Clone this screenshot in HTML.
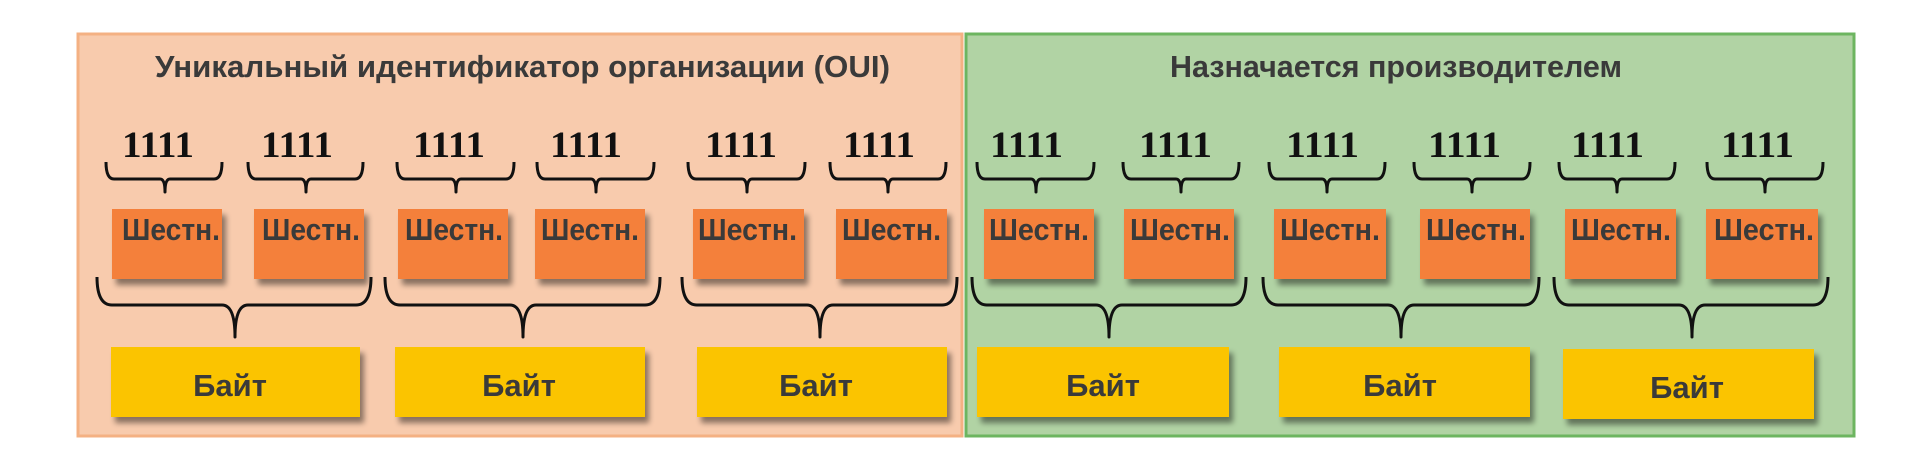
<!DOCTYPE html>
<html><head><meta charset="utf-8"><style>
html,body{margin:0;padding:0;background:#fff;}
svg{display:block;}
.t{font-family:"Liberation Sans",Arial,sans-serif;font-weight:bold;fill:#3a3a3a;}
.n{font-family:"Liberation Serif","Times New Roman",serif;font-weight:bold;fill:#111;font-size:37px;}
.br{fill:none;stroke:#111;stroke-width:3;stroke-linejoin:round;}
</style></head><body>
<svg width="1920" height="471" viewBox="0 0 1920 471" xmlns="http://www.w3.org/2000/svg">
<defs>
<filter id="sh" x="-10%" y="-10%" width="130%" height="140%">
<feGaussianBlur in="SourceAlpha" stdDeviation="3"/>
<feOffset dx="4" dy="6"/>
<feComponentTransfer><feFuncA type="linear" slope="0.45"/></feComponentTransfer>
<feMerge><feMergeNode/><feMergeNode in="SourceGraphic"/></feMerge>
</filter>
</defs>
<rect x="78" y="34" width="884" height="402" fill="#f8cbad" stroke="#f4b183" stroke-width="3"/>
<rect x="966" y="34" width="888" height="402" fill="#b1d3a4" stroke="#6db560" stroke-width="3"/>
<text class="t" x="155" y="77" font-size="31" textLength="735" lengthAdjust="spacingAndGlyphs">Уникальный идентификатор организации (OUI)</text>
<text class="t" x="1170" y="77" font-size="31" textLength="452" lengthAdjust="spacingAndGlyphs">Назначается производителем</text>

<g class="n">
<text x="122" y="157" textLength="72" lengthAdjust="spacingAndGlyphs">1111</text>
<text x="261" y="157" textLength="72" lengthAdjust="spacingAndGlyphs">1111</text>
<text x="413" y="157" textLength="72" lengthAdjust="spacingAndGlyphs">1111</text>
<text x="550" y="157" textLength="72" lengthAdjust="spacingAndGlyphs">1111</text>
<text x="705" y="157" textLength="72" lengthAdjust="spacingAndGlyphs">1111</text>
<text x="843" y="157" textLength="72" lengthAdjust="spacingAndGlyphs">1111</text>
<text x="990" y="157" textLength="73" lengthAdjust="spacingAndGlyphs">1111</text>
<text x="1139" y="157" textLength="73" lengthAdjust="spacingAndGlyphs">1111</text>
<text x="1286" y="157" textLength="73" lengthAdjust="spacingAndGlyphs">1111</text>
<text x="1428" y="157" textLength="73" lengthAdjust="spacingAndGlyphs">1111</text>
<text x="1571" y="157" textLength="73" lengthAdjust="spacingAndGlyphs">1111</text>
<text x="1721" y="157" textLength="73" lengthAdjust="spacingAndGlyphs">1111</text>
</g>

<g class="br" stroke-width="2.6">
<path d="M106,162 Q106,179 114,179 L160,179 Q165,179 165,192 Q165,179 170,179 L214,179 Q222,179 222,162"/>
<path d="M248,162 Q248,179 256,179 L301,179 Q306,179 306,192 Q306,179 311,179 L355,179 Q363,179 363,162"/>
<path d="M397,162 Q397,179 405,179 L451,179 Q456,179 456,192 Q456,179 461,179 L506,179 Q514,179 514,162"/>
<path d="M537,162 Q537,179 545,179 L591,179 Q596,179 596,192 Q596,179 601,179 L646,179 Q654,179 654,162"/>
<path d="M688,162 Q688,179 696,179 L742,179 Q747,179 747,192 Q747,179 752,179 L797,179 Q805,179 805,162"/>
<path d="M830,162 Q830,179 838,179 L883,179 Q888,179 888,192 Q888,179 893,179 L938,179 Q946,179 946,162"/>
<path d="M977,162 Q977,179 985,179 L1031,179 Q1036,179 1036,192 Q1036,179 1041,179 L1086,179 Q1094,179 1094,162"/>
<path d="M1123,162 Q1123,179 1131,179 L1176,179 Q1181,179 1181,192 Q1181,179 1186,179 L1231,179 Q1239,179 1239,162"/>
<path d="M1269,162 Q1269,179 1277,179 L1322,179 Q1327,179 1327,192 Q1327,179 1332,179 L1377,179 Q1385,179 1385,162"/>
<path d="M1414,162 Q1414,179 1422,179 L1467,179 Q1472,179 1472,192 Q1472,179 1477,179 L1522,179 Q1530,179 1530,162"/>
<path d="M1559,162 Q1559,179 1567,179 L1612,179 Q1617,179 1617,192 Q1617,179 1622,179 L1667,179 Q1675,179 1675,162"/>
<path d="M1707,162 Q1707,179 1715,179 L1760,179 Q1765,179 1765,192 Q1765,179 1770,179 L1815,179 Q1823,179 1823,162"/>
</g>

<g fill="#f4803a" filter="url(#sh)">
<rect x="112" y="209" width="110" height="70"/>
<rect x="254" y="209" width="110" height="70"/>
<rect x="398" y="209" width="110" height="70"/>
<rect x="535" y="209" width="110" height="70"/>
<rect x="693" y="209" width="111" height="70"/>
<rect x="836" y="209" width="111" height="70"/>
<rect x="984" y="209" width="110" height="70"/>
<rect x="1124" y="209" width="110" height="70"/>
<rect x="1274" y="209" width="112" height="70"/>
<rect x="1420" y="209" width="110" height="70"/>
<rect x="1565" y="209" width="111" height="70"/>
<rect x="1706" y="209" width="112" height="70"/>
</g>
<g class="t" font-size="31">
<text x="122" y="240" textLength="98" lengthAdjust="spacingAndGlyphs">Шестн.</text>
<text x="262" y="240" textLength="98" lengthAdjust="spacingAndGlyphs">Шестн.</text>
<text x="405" y="240" textLength="98" lengthAdjust="spacingAndGlyphs">Шестн.</text>
<text x="541" y="240" textLength="98" lengthAdjust="spacingAndGlyphs">Шестн.</text>
<text x="698" y="240" textLength="99" lengthAdjust="spacingAndGlyphs">Шестн.</text>
<text x="842" y="240" textLength="99" lengthAdjust="spacingAndGlyphs">Шестн.</text>
<text x="989" y="240" textLength="100" lengthAdjust="spacingAndGlyphs">Шестн.</text>
<text x="1130" y="240" textLength="100" lengthAdjust="spacingAndGlyphs">Шестн.</text>
<text x="1280" y="240" textLength="100" lengthAdjust="spacingAndGlyphs">Шестн.</text>
<text x="1426" y="240" textLength="100" lengthAdjust="spacingAndGlyphs">Шестн.</text>
<text x="1571" y="240" textLength="100" lengthAdjust="spacingAndGlyphs">Шестн.</text>
<text x="1714" y="240" textLength="100" lengthAdjust="spacingAndGlyphs">Шестн.</text>
</g>

<g class="br" stroke-width="3.2">
<path d="M97,277 Q97,305 112,305 L222,305 Q235,305 235,337 Q235,305 248,305 L356,305 Q371,305 371,277"/>
<path d="M385,277 Q385,305 400,305 L510,305 Q523,305 523,337 Q523,305 536,305 L645,305 Q660,305 660,277"/>
<path d="M682,277 Q682,305 697,305 L807,305 Q820,305 820,337 Q820,305 833,305 L942,305 Q957,305 957,277"/>
<path d="M972,277 Q972,305 987,305 L1096,305 Q1109,305 1109,337 Q1109,305 1122,305 L1231,305 Q1246,305 1246,277"/>
<path d="M1263,277 Q1263,305 1278,305 L1388,305 Q1401,305 1401,337 Q1401,305 1414,305 L1524,305 Q1539,305 1539,277"/>
<path d="M1554,277 Q1554,305 1569,305 L1679,305 Q1692,305 1692,337 Q1692,305 1705,305 L1813,305 Q1828,305 1828,277"/>
</g>

<g fill="#fbc400" filter="url(#sh)">
<rect x="111" y="347" width="249" height="70"/>
<rect x="395" y="347" width="250" height="70"/>
<rect x="697" y="347" width="250" height="70"/>
<rect x="977" y="347" width="252" height="70"/>
<rect x="1279" y="347" width="251" height="70"/>
<rect x="1563" y="349" width="251" height="70"/>
</g>
<g class="t" font-size="31" text-anchor="middle">
<text x="230" y="396">Байт</text>
<text x="519" y="396">Байт</text>
<text x="816" y="396">Байт</text>
<text x="1103" y="396">Байт</text>
<text x="1400" y="396">Байт</text>
<text x="1687" y="398">Байт</text>
</g>
</svg>
</body></html>
